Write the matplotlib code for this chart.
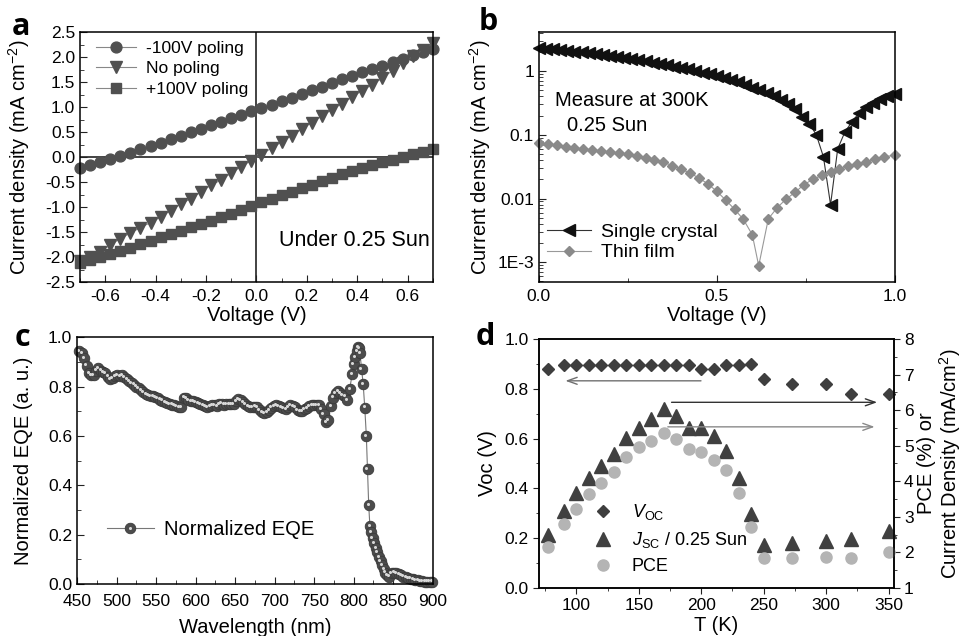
import numpy as np
import matplotlib.pyplot as plt
from matplotlib.ticker import MultipleLocator, LogLocator, NullFormatter
from matplotlib import transforms

plt.rcParams['font.family'] = ['Liberation Sans', 'DejaVu Sans']
plt.rcParams['mathtext.fontset'] = 'custom'
plt.rcParams['mathtext.rm'] = 'Liberation Sans'
plt.rcParams['mathtext.it'] = 'Liberation Sans:italic'
plt.rcParams['axes.linewidth'] = 1.1
plt.rcParams['axes.unicode_minus'] = False

# ---- panel a: J-V curves onder verschillende poling
volt_a = [-0.70, -0.66, -0.62, -0.58, -0.54, -0.50, -0.46, -0.42, -0.38, -0.34,
          -0.30, -0.26, -0.22, -0.18, -0.14, -0.10, -0.06, -0.02, 0.02, 0.06,
          0.10, 0.14, 0.18, 0.22, 0.26, 0.30, 0.34, 0.38, 0.42, 0.46,
          0.50, 0.54, 0.58, 0.62, 0.66, 0.70]
j_neg100 = [-0.22, -0.15, -0.10, -0.04, 0.03, 0.09, 0.16, 0.22, 0.29, 0.36,
            0.42, 0.50, 0.57, 0.64, 0.71, 0.78, 0.85, 0.92, 0.98, 1.05,
            1.12, 1.19, 1.26, 1.34, 1.41, 1.49, 1.56, 1.63, 1.70, 1.76,
            1.83, 1.90, 1.97, 2.04, 2.10, 2.17]
j_nopol = [-2.08, -2.00, -1.89, -1.76, -1.63, -1.52, -1.41, -1.31, -1.20, -1.07,
           -0.94, -0.83, -0.70, -0.56, -0.46, -0.32, -0.19, -0.07, 0.05, 0.18,
           0.30, 0.43, 0.56, 0.69, 0.82, 0.95, 1.07, 1.20, 1.33, 1.45,
           1.58, 1.73, 1.88, 2.02, 2.15, 2.28]
j_pos100 = [-2.12, -2.05, -1.99, -1.93, -1.87, -1.81, -1.74, -1.67, -1.60, -1.54,
            -1.47, -1.40, -1.34, -1.27, -1.20, -1.13, -1.06, -0.98, -0.90, -0.83,
            -0.76, -0.69, -0.62, -0.55, -0.48, -0.41, -0.34, -0.28, -0.22, -0.16,
            -0.10, -0.05, 0.01, 0.06, 0.11, 0.17]

# ---- panel b: |J| op log schaal
volt_sc = [0.00, 0.02, 0.04, 0.06, 0.08, 0.10, 0.12, 0.14, 0.16, 0.18,
           0.20, 0.22, 0.24, 0.26, 0.28, 0.30, 0.32, 0.34, 0.36, 0.38,
           0.40, 0.42, 0.44, 0.46, 0.48, 0.50, 0.52, 0.54, 0.56, 0.58,
           0.60, 0.62, 0.64, 0.66, 0.68, 0.70, 0.72, 0.74, 0.76, 0.78,
           0.80, 0.82, 0.84, 0.86, 0.88, 0.90, 0.92, 0.94, 0.96, 0.98, 1.00]
j_sc = [2.30, 2.25, 2.20, 2.15, 2.08, 2.02, 1.96, 1.90, 1.84, 1.78,
        1.72, 1.66, 1.60, 1.54, 1.48, 1.42, 1.36, 1.30, 1.24, 1.18,
        1.12, 1.06, 1.00, 0.95, 0.90, 0.85, 0.79, 0.73, 0.67, 0.61,
        0.55, 0.50, 0.45, 0.40, 0.35, 0.30, 0.25, 0.19, 0.15, 0.10,
        0.045, 0.008, 0.06, 0.11, 0.16, 0.22, 0.27, 0.32, 0.36, 0.40, 0.44]
volt_tf = [0.000, 0.025, 0.050, 0.075, 0.100, 0.125, 0.150, 0.175, 0.200, 0.225,
           0.250, 0.275, 0.300, 0.325, 0.350, 0.375, 0.400, 0.425, 0.450, 0.475,
           0.500, 0.525, 0.550, 0.575, 0.600, 0.618, 0.645, 0.670, 0.695, 0.720,
           0.745, 0.770, 0.795, 0.820, 0.845, 0.870, 0.895, 0.920, 0.945, 0.970, 1.000]
j_tf = [0.074, 0.071, 0.068, 0.065, 0.062, 0.060, 0.058, 0.056, 0.054, 0.052,
        0.050, 0.047, 0.044, 0.040, 0.037, 0.033, 0.029, 0.025, 0.021, 0.017,
        0.013, 0.0095, 0.0068, 0.0047, 0.0027, 0.00088, 0.0048, 0.0072, 0.0098, 0.0125,
        0.0165, 0.020, 0.023, 0.026, 0.029, 0.032, 0.035, 0.038, 0.041, 0.045, 0.048]

# ---- panel c: genormaliseerde EQE
wl = [453, 456, 459, 462, 465, 468, 471, 474, 477, 480,
      483, 486, 489, 492, 495, 498, 501, 504, 507, 510,
      513, 516, 519, 522, 525, 528, 531, 534, 537, 540,
      543, 546, 549, 552, 555, 558, 561, 564, 567, 570,
      573, 576, 579, 582, 585, 588, 591, 594, 597, 600,
      603, 606, 609, 612, 615, 618, 621, 624, 627, 630,
      633, 636, 639, 642, 645, 648, 651, 654, 657, 660,
      663, 666, 669, 672, 675, 678, 681, 684, 687, 690,
      693, 696, 699, 702, 705, 708, 711, 714, 717, 720,
      723, 726, 729, 732, 735, 738, 741, 744, 747, 750,
      753, 756, 759, 762, 765, 768, 771, 774, 777, 780,
      783, 786, 789, 792, 795, 798,
      800, 802, 804, 806, 807, 808, 810, 812, 814, 816,
      817.5, 819, 820.5, 822, 824, 826, 828, 830, 832, 834,
      836, 838, 840, 842,
      845, 848, 851, 854, 857, 860, 863, 866, 869, 872,
      875, 878, 881, 884, 887, 890, 893, 896, 899]
eqe = [0.945, 0.935, 0.915, 0.885, 0.855, 0.845, 0.845, 0.865, 0.875, 0.865,
       0.860, 0.855, 0.840, 0.830, 0.835, 0.843, 0.845, 0.843, 0.845, 0.838,
       0.830, 0.823, 0.815, 0.808, 0.800, 0.793, 0.786, 0.778, 0.770, 0.765,
       0.762, 0.760, 0.757, 0.752, 0.747, 0.743, 0.738, 0.733, 0.730, 0.727,
       0.725, 0.722, 0.718, 0.716, 0.755, 0.752, 0.745, 0.742, 0.740, 0.737,
       0.733, 0.728, 0.725, 0.722, 0.718, 0.720, 0.724, 0.726, 0.722, 0.728,
       0.731, 0.727, 0.728, 0.730, 0.728, 0.730, 0.740, 0.748, 0.745, 0.738,
       0.730, 0.722, 0.718, 0.716, 0.719, 0.716, 0.706, 0.697, 0.692, 0.698,
       0.706, 0.715, 0.722, 0.725, 0.722, 0.718, 0.712, 0.708, 0.716, 0.725,
       0.722, 0.716, 0.706, 0.700, 0.702, 0.708, 0.714, 0.720, 0.725, 0.726,
       0.725, 0.726, 0.710, 0.690, 0.655, 0.665, 0.720, 0.755, 0.775, 0.780,
       0.772, 0.765, 0.760, 0.745, 0.790, 0.850,
       0.890, 0.920, 0.945, 0.960, 0.955, 0.935, 0.870, 0.810, 0.715, 0.600,
       0.465, 0.320, 0.235, 0.210, 0.185, 0.165, 0.145, 0.128, 0.110, 0.092,
       0.075, 0.060, 0.046, 0.036,
       0.030, 0.045, 0.046, 0.043, 0.040, 0.035, 0.030, 0.027, 0.024, 0.022,
       0.020, 0.017, 0.015, 0.012, 0.011, 0.010, 0.010, 0.010, 0.010]

# ---- panel d: temperatuurafhankelijkheid
temp_d = [77, 90, 100, 110, 120, 130, 140, 150, 160, 170, 180,
          190, 200, 210, 220, 230, 240, 250, 273, 300, 320, 350]
voc = [0.88, 0.895, 0.895, 0.895, 0.895, 0.895, 0.895, 0.895, 0.895, 0.895, 0.895,
       0.895, 0.88, 0.88, 0.895, 0.895, 0.90, 0.84, 0.82, 0.82, 0.78, 0.78]
jsc = [2.50, 3.16, 3.68, 4.10, 4.43, 4.76, 5.23, 5.51, 5.75, 6.03, 5.84,
       5.51, 5.51, 5.28, 4.85, 4.10, 3.07, 2.22, 2.27, 2.32, 2.38, 2.60]
pce = [2.15, 2.80, 3.23, 3.63, 3.96, 4.26, 4.67, 4.95, 5.14, 5.37, 5.20,
       4.92, 4.83, 4.60, 4.31, 3.66, 2.72, 1.84, 1.84, 1.87, 1.84, 2.00]

TICK = 12.5
LAB = 14.5

fig = plt.figure(figsize=(9.64, 6.36), dpi=100)
ax_a = fig.add_axes([0.083, 0.5566, 0.366, 0.393])
ax_b = fig.add_axes([0.559, 0.5566, 0.369, 0.393])
ax_c = fig.add_axes([0.0799, 0.0818, 0.369, 0.388])
ax_d = fig.add_axes([0.559, 0.0755, 0.368, 0.3915])

for ax in (ax_a, ax_b, ax_c):
    ax.tick_params(which='both', direction='in', labelsize=TICK, color='#222')
    ax.tick_params(which='major', length=5)
    ax.tick_params(which='minor', length=3)
    ax.tick_params(axis='x', pad=5)
ax_c.tick_params(axis='x', pad=7)

# ---------------- a
gray_a = '#505050'
ax_a.axhline(0, color='#222', lw=1.2, zorder=1)
ax_a.axvline(0, color='#222', lw=1.2, zorder=1)
ax_a.plot(volt_a, j_neg100, '-o', color='#888', lw=0.8, mfc=gray_a, mec=gray_a, ms=7.8, label='-100V poling', clip_on=False)
ax_a.plot(volt_a, j_nopol, '-v', color='#888', lw=0.8, mfc=gray_a, mec=gray_a, ms=8.5, label='No poling', clip_on=False)
ax_a.plot(volt_a, j_pos100, '-s', color='#888', lw=0.8, mfc=gray_a, mec=gray_a, ms=6.8, label='+100V poling', clip_on=False)
ax_a.set_xlim(-0.7, 0.7)
ax_a.set_ylim(-2.5, 2.5)
ax_a.xaxis.set_minor_locator(MultipleLocator(0.1))
ax_a.yaxis.set_major_locator(MultipleLocator(0.5))
ax_a.yaxis.set_minor_locator(MultipleLocator(0.25))
ax_a.set_xticks([-0.6, -0.4, -0.2, 0.0, 0.2, 0.4, 0.6])
ax_a.set_xlabel('Voltage (V)', fontsize=LAB)
ax_a.set_ylabel('Current density (mA cm$^{-2}$)', fontsize=LAB)
ax_a.yaxis.set_label_coords(-0.136, 0.5)
ax_a.xaxis.set_label_coords(0.5, -0.096)
ax_a.xaxis.label.set_va('top')
ax_a.legend(loc='upper left', bbox_to_anchor=(0.045, 0.965), frameon=False, fontsize=12.5,
            handlelength=2.3, handletextpad=0.6, labelspacing=0.3, borderpad=0, borderaxespad=0)
ax_a.text(0.99, 0.168, 'Under 0.25 Sun', transform=ax_a.transAxes, ha='right', va='center', fontsize=15.5)

# ---------------- b
ax_b.semilogy(volt_sc, j_sc, '-<', color='#333', lw=0.8, mfc='#111', mec='#111', ms=8, label='Single crystal', clip_on=False)
ax_b.semilogy(volt_tf, j_tf, '-D', color='#999', lw=0.8, mfc='#8a8a8a', mec='#8a8a8a', ms=5.3, label='Thin film', clip_on=False)
ax_b.set_xlim(0, 1.0)
ax_b.set_ylim(4.9e-4, 4.1)
ax_b.set_xticks([0.0, 0.5, 1.0])
ax_b.xaxis.set_minor_locator(MultipleLocator(0.25))
ax_b.set_yticks([1e-3, 1e-2, 1e-1, 1])
ax_b.set_yticklabels(['1E-3', '0.01', '0.1', '1'])
ax_b.yaxis.set_minor_locator(LogLocator(base=10, subs=np.arange(2, 10)))
ax_b.yaxis.set_minor_formatter(NullFormatter())
ax_b.set_xlabel('Voltage (V)', fontsize=LAB)
ax_b.set_ylabel('Current density (mA cm$^{-2}$)', fontsize=LAB)
ax_b.yaxis.set_label_coords(-0.129, 0.5)
ax_b.xaxis.set_label_coords(0.5, -0.096)
ax_b.xaxis.label.set_va('top')
ax_b.text(0.045, 0.704, 'Measure at 300K', transform=ax_b.transAxes, fontsize=14.5, va='baseline')
ax_b.text(0.079, 0.604, '0.25 Sun', transform=ax_b.transAxes, fontsize=14.5, va='baseline')
ax_b.legend(loc='upper left', bbox_to_anchor=(0.022, 0.235), frameon=False, fontsize=14,
            handlelength=2.3, handletextpad=0.5, labelspacing=0.15, borderpad=0, borderaxespad=0)

# ---------------- c
ball, = ax_c.plot(wl, eqe, '-o', color='#777', lw=0.8, mfc='#4c4c4c', mec='#3a3a3a', mew=0.6, ms=7.6, clip_on=False)
glans = transforms.offset_copy(ax_c.transData, fig=fig, x=-1.2, y=1.2, units='dots')
hl, = ax_c.plot(wl, eqe, 'o', ms=2.2, mfc='#d8d8d8', mec='none', transform=glans, clip_on=False)
ax_c.set_xlim(450, 900)
ax_c.set_ylim(0, 1.0)
ax_c.xaxis.set_major_locator(MultipleLocator(50))
ax_c.xaxis.set_minor_locator(MultipleLocator(25))
ax_c.yaxis.set_major_locator(MultipleLocator(0.2))
ax_c.yaxis.set_minor_locator(MultipleLocator(0.1))
ax_c.set_xlabel('Wavelength (nm)', fontsize=LAB)
ax_c.set_ylabel('Normalized EQE (a. u.)', fontsize=LAB)
ax_c.yaxis.set_label_coords(-0.124, 0.5)
ax_c.xaxis.set_label_coords(0.5, -0.138)
ax_c.xaxis.label.set_va('top')
ax_c.legend([(ball, hl)], ['Normalized EQE'], loc='upper left', bbox_to_anchor=(0.085, 0.26),
            frameon=False, fontsize=14.5, handlelength=2.3, handletextpad=0.5, borderpad=0, borderaxespad=0)

# ---------------- d
ax_d2 = ax_d.twinx()
h_voc, = ax_d.plot(temp_d, voc, 'D', color='#3e3e3e', ms=6.2, clip_on=False, zorder=3)
h_jsc, = ax_d2.plot(temp_d, jsc, '^', color='#404040', ms=9.5, clip_on=False)
h_pce, = ax_d2.plot(temp_d, pce, 'o', color='#b4b4b4', ms=8.0, clip_on=False)
ax_d.set_xlim(70, 354)
ax_d.set_ylim(0, 1.0)
ax_d2.set_ylim(1, 8)
ax_d.xaxis.set_major_locator(MultipleLocator(50))
ax_d.xaxis.set_minor_locator(MultipleLocator(25))
ax_d.yaxis.set_major_locator(MultipleLocator(0.2))
ax_d.yaxis.set_minor_locator(MultipleLocator(0.1))
ax_d2.yaxis.set_major_locator(MultipleLocator(1))
ax_d2.yaxis.set_minor_locator(MultipleLocator(0.5))
for ax in (ax_d, ax_d2):
    ax.tick_params(which='both', direction='out', labelsize=TICK, color='#222')
    ax.tick_params(which='major', length=4)
    ax.tick_params(which='minor', length=2.5)
ax_d.set_xlabel('T (K)', fontsize=LAB)
ax_d.set_ylabel('Voc (V)', fontsize=LAB)
ax_d.yaxis.set_label_coords(-0.118, 0.5)
ax_d.xaxis.set_label_coords(0.5, -0.112)
ax_d.xaxis.label.set_va('top')
ax_d2.set_ylabel('PCE (%) or\nCurrent Density (mA/cm$^2$)', fontsize=LAB, multialignment='center', linespacing=1.05)
ax_d2.yaxis.set_label_coords(1.065, 0.5)

# pijlen die naar de juiste as wijzen
ax_d.annotate('', xy=(89, 0.832), xytext=(202, 0.832),
              arrowprops=dict(arrowstyle='->,head_length=0.7,head_width=0.25', color='#707070', lw=1.0))
ax_d2.annotate('', xy=(343, 6.22), xytext=(174, 6.22),
               arrowprops=dict(arrowstyle='->,head_length=0.7,head_width=0.25', color='#333', lw=1.0))
ax_d2.annotate('', xy=(341, 5.53), xytext=(171, 5.53),
               arrowprops=dict(arrowstyle='->,head_length=0.7,head_width=0.25', color='#8a8a8a', lw=1.0))

ax_d.legend([h_voc, h_jsc, h_pce], ['$V_{\\mathrm{OC}}$', '$J_{\\mathrm{SC}}$ / 0.25 Sun', 'PCE'],
            loc='upper left', bbox_to_anchor=(0.15, 0.345), frameon=False, fontsize=13,
            handlelength=1.2, handletextpad=1.0, labelspacing=0.45, borderpad=0, borderaxespad=0)

# panel letters
for lbl, xx, yy in [('a', 0.0125, 0.945), ('b', 0.496, 0.953), ('c', 0.0156, 0.456), ('d', 0.493, 0.458)]:
    fig.text(xx, yy, lbl, fontsize=22, fontweight='bold', family=['Open Sans', 'DejaVu Sans'], va='baseline')

fig.savefig('out.png', dpi=100)
